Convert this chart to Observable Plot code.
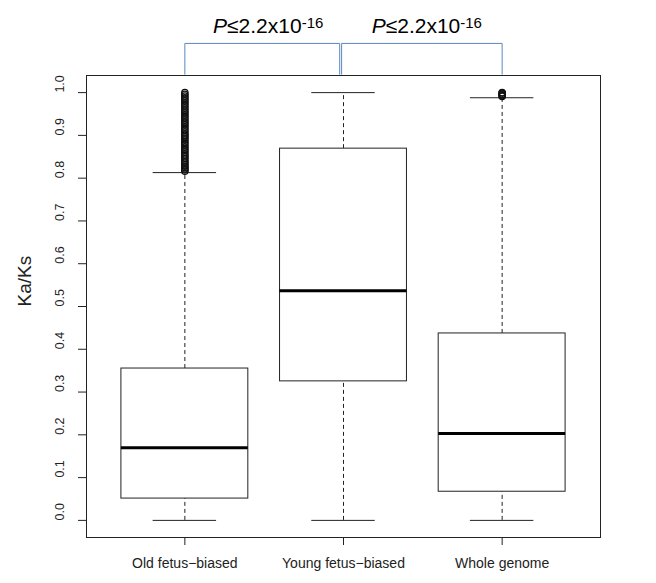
<!DOCTYPE html>
<html><head><meta charset="utf-8">
<script src="https://cdn.jsdelivr.net/npm/d3@7"></script>
<script src="https://cdn.jsdelivr.net/npm/@observablehq/plot@0.6"></script>
<style>body{margin:0;background:#fff;} svg{display:block;}</style>
</head><body><div id="chart"></div>
<script>
// ---- data ----
const categories = ["Old fetus\u2212biased", "Young fetus\u2212biased", "Whole genome"];
const lowerWhisker = [0, 0, 0];
const q1Values = [0.051, 0.325, 0.067];
const medianValues = [0.170, 0.537, 0.203];
const q3Values = [0.355, 0.869, 0.437];
const upperWhisker = [0.813, 1.0, 0.988];
const oldOutliers = [0.816, 0.819, 0.822, 0.825, 0.828, 0.831, 0.835, 0.838, 0.842, 0.846, 0.85,
  0.853, 0.857, 0.861, 0.865, 0.869, 0.873, 0.877, 0.881, 0.885, 0.889, 0.893, 0.897, 0.9,
  0.904, 0.908, 0.912, 0.916, 0.92, 0.924, 0.928, 0.932, 0.936, 0.94, 0.944, 0.948, 0.952,
  0.956, 0.96, 0.964, 0.968, 0.972, 0.976, 0.98, 0.984, 0.988, 0.992, 0.996, 1.0];
const wholeOutliers = [0.991, 0.993, 0.995, 0.997, 0.999, 1.0];
const yTicks = [0, 0.1, 0.2, 0.3, 0.4, 0.5, 0.6, 0.7, 0.8, 0.9, 1.0];
const compareFrom = [1, 2];
const compareTo = [2, 3];
const pPrefix = ["P", "P"];
const pMantissa = ["\u22642.2x10", "\u22642.2x10"];
const pExponent = ["-16", "-16"];
const yLabel = "Ka/Ks";

// ---- derived tables ----
const stats = categories.map((c, i) => ({
  cat: c, pos: i + 1, lo: lowerWhisker[i], q1: q1Values[i], med: medianValues[i], q3: q3Values[i], hi: upperWhisker[i]
}));
const outliers = [
  ...oldOutliers.map(v => ({pos: 1, v})),
  ...wholeOutliers.map(v => ({pos: 3, v}))
];
const comps = compareFrom.map((f, i) => ({from: f, to: compareTo[i], prefix: pPrefix[i], mantissa: pMantissa[i], exponent: pExponent[i]}));

const half = 0.4, capHalf = 0.2;
const bracketTop = 1.115, bracketBottom = 1.043;
const bracketPts = comps.flatMap((c, k) => {
  const a = k === 0 ? c.from : c.from - 0.012;
  const b = k === 0 ? c.to - 0.024 : c.to;
  return [{k, x: a, y: bracketBottom}, {k, x: a, y: bracketTop}, {k, x: b, y: bracketTop}, {k, x: b, y: bracketBottom}];
});

const ink = "#222";
const svg = Plot.plot({
  width: 656, height: 583,
  marginLeft: 86, marginRight: 56, marginTop: 75, marginBottom: 46,
  style: {fontFamily: "'Liberation Sans', Arial, sans-serif", fontSize: "12px", background: "white", overflow: "visible"},
  x: {type: "linear", domain: [0.38, 3.62], axis: null},
  y: {domain: [-0.04, 1.04], axis: null},
  marks: [
    Plot.ruleX(stats, {x: "pos", y1: "q3", y2: "hi", stroke: ink, strokeDasharray: "4,3"}),
    Plot.ruleX(stats, {x: "pos", y1: "lo", y2: "q1", stroke: ink, strokeDasharray: "4,3"}),
    Plot.ruleY(stats, {y: "hi", x1: d => d.pos - capHalf, x2: d => d.pos + capHalf, stroke: ink}),
    Plot.ruleY(stats, {y: "lo", x1: d => d.pos - capHalf, x2: d => d.pos + capHalf, stroke: ink}),
    Plot.rect(stats, {x1: d => d.pos - half, x2: d => d.pos + half, y1: "q1", y2: "q3", fill: "white", stroke: ink}),
    Plot.ruleY(stats, {y: "med", x1: d => d.pos - half, x2: d => d.pos + half, stroke: "black", strokeWidth: 3}),
    Plot.dot(outliers, {x: "pos", y: "v", r: 3.2, stroke: "#111", fill: "none", strokeWidth: 1.2}),
    Plot.frame({stroke: ink}),
    Plot.axisY({ticks: yTicks, tickSize: 8, tickFormat: () => "", label: null, stroke: ink}),
    Plot.text(yTicks, {y: d => d, text: d => d3.format(".1f")(d), frameAnchor: "left", dx: -27, rotate: -90, fontSize: 12.5, fill: ink}),
    Plot.text([yLabel], {text: d => d, frameAnchor: "left", dx: -62, rotate: -90, fontSize: 19, fill: ink}),
    Plot.axisX({ticks: [1, 2, 3], tickSize: 8, tickPadding: 13, tickFormat: d => categories[d - 1], fontSize: 14, label: null, stroke: ink, fill: ink}),
    Plot.line(bracketPts, {x: "x", y: "y", z: "k", stroke: "#5a88c0", strokeWidth: 1}),
    Plot.text(comps, {x: d => (d.from + d.to) / 2, y: () => bracketTop, dy: -17, dx: 4,
      text: d => d.prefix + d.mantissa + d.exponent, fontSize: 21, fill: "black"})
  ]
});
document.getElementById("chart").appendChild(svg);

// rich text: italic P and superscript exponent
comps.forEach(c => {
  const full = c.prefix + c.mantissa + c.exponent;
  d3.select(svg).selectAll("text").filter(function () { return this.textContent === full; }).each(function () {
    const t = d3.select(this);
    t.text(null);
    t.append("tspan").attr("font-style", "italic").text(c.prefix);
    t.append("tspan").text(c.mantissa);
    t.append("tspan").attr("font-size", 15).attr("dy", -5.6).text(c.exponent);
  });
});
</script></body></html>
